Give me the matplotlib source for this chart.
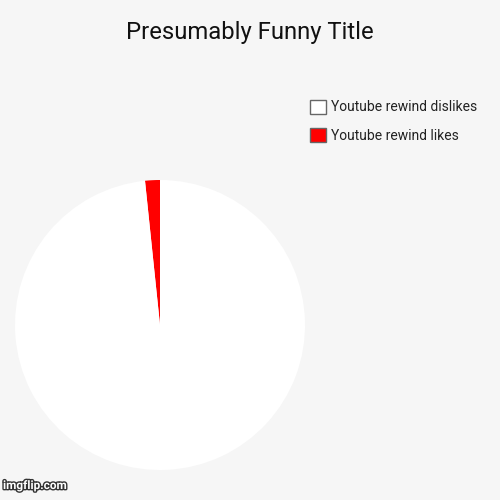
import matplotlib
matplotlib.use("Agg")
import matplotlib.pyplot as plt
import matplotlib.patches as mpatches
import matplotlib.patheffects as pe

title = "Presumably Funny Title"
labels = ["Youtube rewind likes", "Youtube rewind dislikes"]
values = [1.65, 98.35]
colors = ["#ff0000", "#ffffff"]

plt.rcParams['font.family'] = ['Roboto', 'DejaVu Sans']
bg = "#f6f6f6"
fig = plt.figure(figsize=(5, 5), dpi=100, facecolor=bg)

ax = fig.add_axes([15/500, 30/500, 290/500, 290/500])
ax.set_facecolor(bg)
wedges, _ = ax.pie(values, colors=colors, startangle=90, counterclock=True,
                   radius=1, wedgeprops=dict(linewidth=0))
ax.set_xlim(-1, 1)
ax.set_ylim(-1, 1)
ax.set_aspect('equal')
ax.axis('off')

fig.text(0.5, 1 - 32/500, title, ha='center', va='center', fontsize=17.2, color='#111111')

handles = [mpatches.Patch(facecolor=w.get_facecolor(), edgecolor='#666666', linewidth=1)
           for w in wedges]
leg = fig.legend(handles[::-1], labels[::-1], loc='upper left',
                 bbox_to_anchor=(310/500, 1 - 100/500), frameon=False,
                 fontsize=10.0, handlelength=1.12, handleheight=1.12,
                 handletextpad=0.38, labelspacing=1.0, borderpad=0, borderaxespad=0)
for t in leg.get_texts():
    t.set_color('#222222')

fig.text(3/500, 8/500, "imgflip.com", ha='left', va='bottom', fontsize=8.5,
         color='white', fontweight='bold',
         path_effects=[pe.withStroke(linewidth=2, foreground='#333333')])

fig.savefig("out.png", dpi=100, facecolor=bg)
